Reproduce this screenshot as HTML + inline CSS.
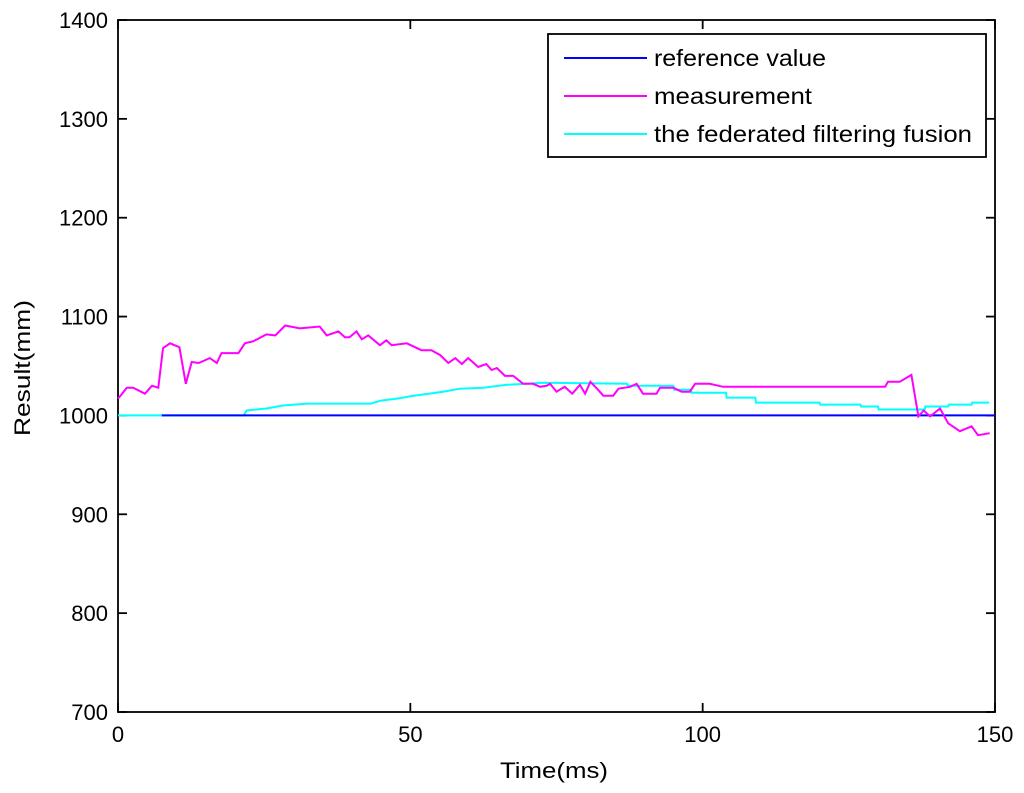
<!DOCTYPE html>
<html><head><meta charset="utf-8"><style>
body{margin:0;background:#fff;}
svg{display:block;font-family:"Liberation Sans",Arial,sans-serif;}
</style></head><body>
<svg id="chart" width="1024" height="793"></svg>
<script>
const xTicks=[0,50,100,150];
const yTicks=[700,800,900,1000,1100,1200,1300,1400];
const refT=[7.5,150];
const refV=[1000,1000];
const measT=[0,0.3,1.5,2.6,4.6,5.8,6.9,7.7,8.9,10.5,11.6,12.6,13.8,15.7,16.9,17.7,20.6,21.7,23.1,25.4,26.9,28.6,31.1,34.5,35.7,37.7,38.8,39.6,40.8,41.7,42.8,44.8,45.9,46.8,49.4,51.9,53.6,55.1,56.5,57.7,58.8,59.9,61.6,63.0,63.9,64.8,66.2,67.6,69.3,71.0,72.2,73.3,73.9,75.0,76.4,77.7,79.0,79.9,80.8,82.1,83.0,84.7,85.6,87.6,88.7,89.8,92.1,92.7,95.0,96.4,97.8,98.7,101.2,103.5,131.2,131.7,133.7,135.7,136.9,137.8,138.9,140.6,142.0,144.0,146.0,147.1,149.1];
const measV=[1017,1019,1028,1028,1022,1030,1028,1068,1073,1069,1032,1054,1053,1058,1053,1063,1063,1073,1075,1082,1081,1091,1088,1090,1081,1085,1079,1079,1085,1077,1081,1071,1076,1071,1073,1066,1066,1061,1053,1058,1052,1058,1049,1052,1046,1048,1040,1040,1032,1032,1029,1030,1032,1024,1029,1022,1031,1022,1034,1026,1020,1020,1027,1029,1032,1022,1022,1028,1028,1024,1024,1032,1032,1029,1029,1034,1034,1041,999,1005,999,1007,992,984,989,980,982];
const fusT=[0,7.5,21.5,22,25.4,28.2,32.4,43.2,45.0,47.7,50.6,55.6,58.4,62.5,66.5,72.7,87.1,87.2,95,95.1,98,98.1,104,104.1,109,109.1,120,120.1,127,127.1,130,130.1,138,138.1,142,142.1,146,146.1,149];
const fusV=[1000,1000,1000,1005,1007,1010,1012,1012,1015,1017,1020,1024,1027,1028,1031,1033,1032,1030,1030,1026,1026,1023,1023,1018,1018,1013,1013,1011,1011,1009,1009,1006,1006,1009,1009,1011,1011,1013,1013];

const L=118,R=995,T=20,B=712;
const xs=t=>L+(t-0)/(150-0)*(R-L);
const ys=v=>B-(v-700)/(1400-700)*(B-T);
const NS="http://www.w3.org/2000/svg";
const svg=document.getElementById('chart');
function mk(tag,attrs,parent){const e=document.createElementNS(NS,tag);for(const k in attrs)e.setAttribute(k,attrs[k]);(parent||svg).appendChild(e);return e;}

const frame=mk('rect',{x:L,y:T,width:R-L,height:B-T,fill:'#fff',stroke:'#000','stroke-width':1.8});



xTicks.forEach(t=>{
  const x=xs(t);
  mk('line',{x1:x,y1:B,x2:x,y2:B-9,stroke:'#000','stroke-width':1.8});
  mk('line',{x1:x,y1:T,x2:x,y2:T+9,stroke:'#000','stroke-width':1.8});
  const tx=mk('text',{x:x,y:742,'font-size':22,'text-anchor':'middle'});
  tx.textContent=t;
  
  
});
yTicks.forEach(v=>{
  const y=ys(v);
  mk('line',{x1:L,y1:y,x2:L+9,y2:y,stroke:'#000','stroke-width':1.8});
  mk('line',{x1:R,y1:y,x2:R-9,y2:y,stroke:'#000','stroke-width':1.8});
  const tx=mk('text',{x:108,y:y+8,'font-size':22,'text-anchor':'end'});
  tx.textContent=v;
  
  
});

function line(ts,vs,color,name){
  const pts=ts.map((t,i)=>xs(t).toFixed(1)+','+ys(vs[i]).toFixed(1)).join(' ');
  const p=mk('polyline',{points:pts,fill:'none',stroke:color,'stroke-width':2});
  
  
}
line(fusT,fusV,'#00ffff','fusion-line');
line(refT,refV,'#0000ff','reference-line');
line(measT,measV,'#ff00ff','measurement-line');

const xl=mk('text',{x:500,y:778,'font-size':22,textLength:108,lengthAdjust:'spacingAndGlyphs'});
xl.textContent='Time(ms)';


const yl=mk('text',{x:0,y:0,'font-size':22,textLength:136,lengthAdjust:'spacingAndGlyphs',transform:'translate(30,436) rotate(-90)'});
yl.textContent='Result(mm)';



const lg=mk('g',{});


mk('rect',{x:548,y:34,width:438,height:123,fill:'#fff',stroke:'#000','stroke-width':1.8},lg);
const entries=[['reference value','#0000ff',58,172],['measurement','#ff00ff',96,158],['the federated filtering fusion','#00ffff',134,318]];
entries.forEach(e=>{
  const g=mk('g',{},lg);
  
  
  mk('line',{x1:564,y1:e[2],x2:647,y2:e[2],stroke:e[1],'stroke-width':2},g);
  const t=mk('text',{x:654,y:e[2]+8,'font-size':23,textLength:e[3],lengthAdjust:'spacingAndGlyphs'},g);
  t.textContent=e[0];
});
</script>
</body></html>
